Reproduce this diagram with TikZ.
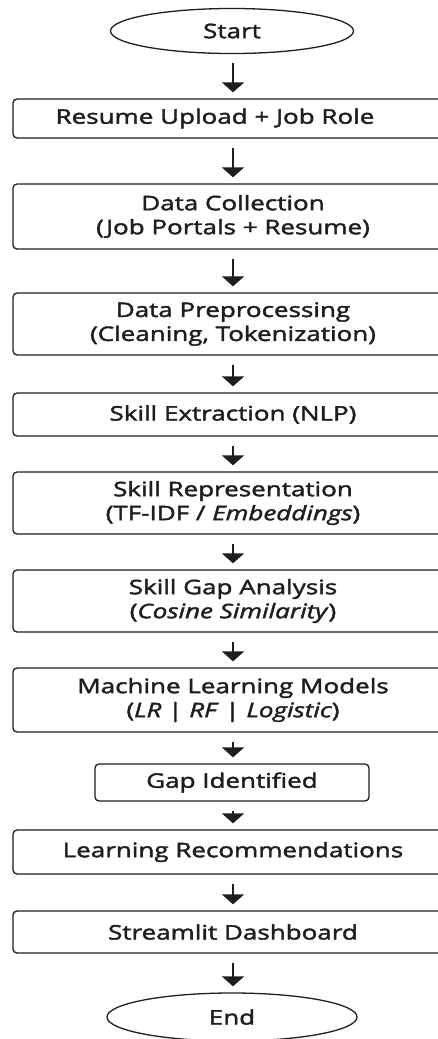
\documentclass[tikz,border=0pt]{standalone}
\usepackage{fontspec}
\setmainfont{Open Sans}[FakeStretch=1.3, FakeBold=2]
\usetikzlibrary{shapes.geometric,arrows.meta}
\definecolor{ink}{HTML}{1E1E1E}
\begin{document}
\begin{tikzpicture}[x=1pt,y=-1pt,
  every node/.style={font=\fontsize{20}{24}\selectfont, text=ink, align=center, inner sep=0pt},
  procbox/.style={draw=ink, line width=1.3pt, rounded corners=4pt, minimum width=440pt},
  termnode/.style={draw=ink, line width=1.3pt, ellipse},
  arr/.style={draw=ink, line width=2pt, -{Triangle[width=22pt,length=10pt]}, shorten <=9pt, shorten >=6pt}]
\useasboundingbox (0,0) rectangle (438,1039);
\clip (0,0) rectangle (438,1039);
\fill[white] (0,0) rectangle (438,1039);
\node[termnode, minimum width=243pt, minimum height=45pt] (start) at (232,31) {Start};
\node[procbox, minimum height=39pt] (b1) at (233,118.5) {};
\node[xshift=-18pt] (t1) at (b1.center) {Resume Upload + Job Role};
\node[procbox, minimum height=65pt] (b2) at (233,216.5) {Data Collection\\(Job Portals + Resume)};
\node[procbox, minimum height=62pt] (b3) at (233,324) {Data Preprocessing\\(Cleaning, Tokenization)};
\node[procbox, minimum height=43pt] (b4) at (233,414.5) {Skill Extraction (NLP)};
\node[procbox, minimum height=62pt] (b5) at (233,503) {Skill Representation\\(TF-IDF / \textit{Embeddings})};
\node[procbox, minimum height=62pt] (b6) at (233,601) {Skill Gap Analysis\\(\textit{Cosine Similarity})};
\node[procbox, minimum height=64pt] (b7) at (233,700) {Machine Learning Models\\(\textit{LR} | \textit{RF} | \textit{Logistic})};
\node[procbox, minimum width=274pt, minimum height=37pt] (b8) at (232,782.5) {Gap Identified};
\node[procbox, minimum height=44pt] (b9) at (233,852) {Learning Recommendations};
\node[procbox, minimum height=42pt] (b10) at (233,932) {Streamlit Dashboard};
\node[termnode, minimum width=250pt, minimum height=48pt] (end) at (232,1017) {End};
\foreach \a/\b in {start/b1,b1/b2,b2/b3,b3/b4,b4/b5,b5/b6,b6/b7,b7/b8,b8/b9,b9/b10,b10/end}
  \draw[arr] (\a.south -| 233,0) -- (\b.north -| 233,0);
\end{tikzpicture}
\end{document}
